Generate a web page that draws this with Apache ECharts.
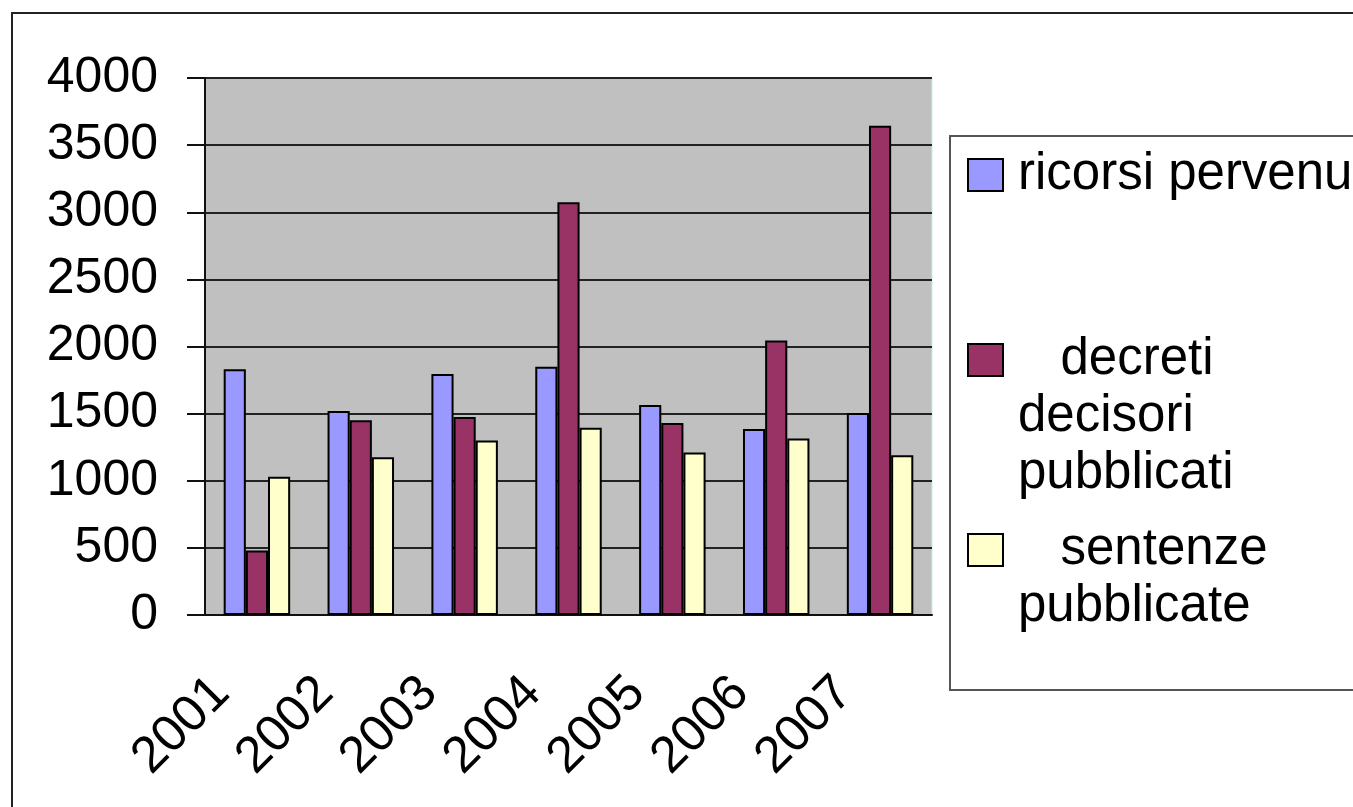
<!DOCTYPE html>
<html>
<head>
<meta charset="utf-8">
<script src="https://cdn.jsdelivr.net/npm/echarts@6/dist/echarts.min.js"></script>
<style>
  html, body { margin: 0; padding: 0; background: #fff; }
  #chart { width: 1353px; height: 807px; }
</style>
</head>
<body>
<div id="chart"></div>
<script>
// anni
const years = ['2001', '2002', '2003', '2004', '2005', '2006', '2007'];
// serie
const ricorsiPervenuti = [1830, 1520, 1795, 1850, 1565, 1385, 1505];
const decretiDecisori = [480, 1450, 1475, 3075, 1430, 2045, 3645];
const sentenzePubblicate = [1030, 1175, 1300, 1395, 1210, 1315, 1190];
const seriesNames = ['ricorsi pervenuti', 'decreti decisori pubblicati', 'sentenze pubblicate'];
const yTicks = [0, 500, 1000, 1500, 2000, 2500, 3000, 3500, 4000];

const FONT = '"Liberation Sans", Arial, sans-serif';
const colors = ['#9999ff', '#993366', '#ffffcc'];
const LH = 57;

// testo della legenda come nell'originale (a capo)
const legendLines = {
  'ricorsi pervenuti': ['ricorsi pervenuti'],
  'decreti decisori pubblicati': ['   decreti', 'decisori', 'pubblicati'],
  'sentenze pubblicate': ['   sentenze', 'pubblicate']
};

function makeBar(name, data, color) {
  return {
    name: name,
    type: 'bar',
    data: data,
    barGap: '0%',
    barCategoryGap: '36%',
    itemStyle: { color: color, borderColor: '#000', borderWidth: 2 },
    emphasis: { disabled: true }
  };
}

// una legenda per voce; righe vuote davanti cosi' la prima riga resta accanto al quadratino
function makeLegend(name, iconCenter) {
  const lines = legendLines[name];
  const blank = new Array(lines.length - 1).fill('');
  const total = lines.length * 2 - 1;
  return {
    data: [name],
    left: 967,
    top: iconCenter - total * LH / 2,
    padding: 0,
    icon: 'rect',
    itemWidth: 35,
    itemHeight: 32,
    selectedMode: false,
    formatter: () => blank.concat(lines).join('\n'),
    textStyle: {
      fontFamily: FONT,
      fontSize: 51,
      lineHeight: LH,
      color: '#000',
      padding: [0, 0, 0, 10]
    }
  };
}

const chart = echarts.init(document.getElementById('chart'));
chart.setOption({
  animation: false,
  color: colors,
  textStyle: { fontFamily: FONT },
  graphic: [
    {
      type: 'rect', z: -10,
      shape: { x: 12, y: 13, width: 1400, height: 900 },
      style: { fill: '#fff', stroke: '#222', lineWidth: 2 }
    },
    {
      type: 'rect', z: -5,
      shape: { x: 950, y: 136, width: 500, height: 554 },
      style: { fill: '#fff', stroke: '#555', lineWidth: 2 }
    }
  ],
  legend: [
    makeLegend(seriesNames[0], 175),
    makeLegend(seriesNames[1], 360),
    makeLegend(seriesNames[2], 550)
  ],
  grid: {
    left: 205, right: 421, top: 78, bottom: 192,
    show: true,
    backgroundColor: '#c0c0c0',
    borderColor: '#c8ecec',
    borderWidth: 1
  },
  xAxis: {
    type: 'category',
    data: years,
    axisLine: { lineStyle: { color: '#111', width: 2 } },
    axisTick: { length: 18, lineStyle: { color: '#111', width: 2 } },
    axisLabel: {
      rotate: 45,
      margin: 35,
      padding: [0, 50, 0, 0],
      fontSize: 51,
      color: '#000',
      interval: 0
    }
  },
  yAxis: {
    type: 'value',
    min: yTicks[0],
    max: yTicks[yTicks.length - 1],
    interval: 500,
    axisLine: { show: true, lineStyle: { color: '#111', width: 2 } },
    axisTick: { show: true, length: 18, lineStyle: { color: '#111', width: 2 } },
    splitLine: { lineStyle: { color: '#222', width: 2 } },
    axisLabel: {
      margin: 47,
      fontSize: 50,
      color: '#000',
      formatter: (v) => String(v)
    }
  },
  series: [
    makeBar(seriesNames[0], ricorsiPervenuti, colors[0]),
    makeBar(seriesNames[1], decretiDecisori, colors[1]),
    makeBar(seriesNames[2], sentenzePubblicate, colors[2])
  ]
});
</script>
</body>
</html>
